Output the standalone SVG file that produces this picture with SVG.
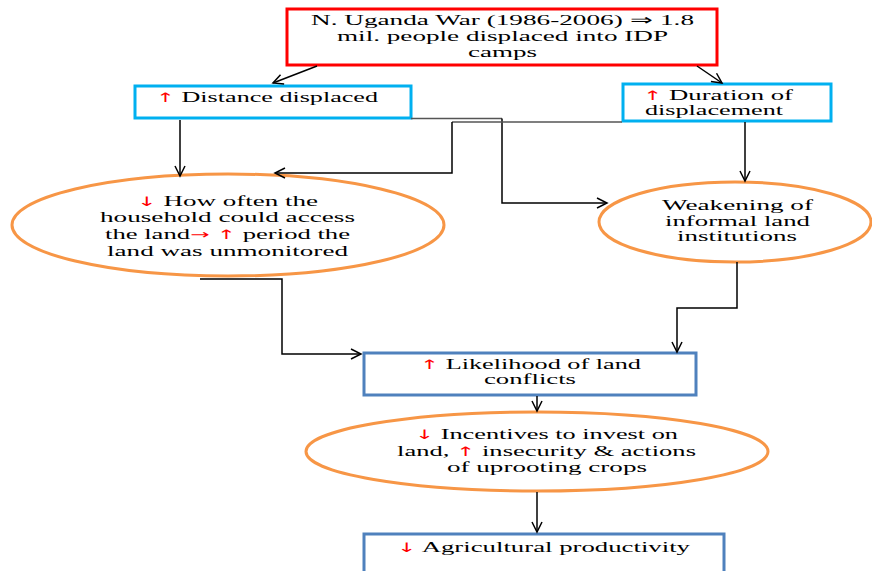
<svg xmlns="http://www.w3.org/2000/svg" width="872" height="571" viewBox="0 0 872 571">
<style>
text{font-family:"Liberation Serif","Times New Roman",serif;font-size:15px;fill:#000}
.r{fill:#ff0000;font-family:"DejaVu Sans","Liberation Serif",sans-serif;font-size:13px}
.c{fill:none;stroke:#000;stroke-width:1.5}
.g{fill:none;stroke:#555;stroke-width:1.5}
.red{fill:#fff;stroke:#ff0000;stroke-width:3}
.sky{fill:#fff;stroke:#00b0f0;stroke-width:3}
.steel{fill:#fff;stroke:#4f81bd;stroke-width:3}
.orange{fill:#fff;stroke:#f79646;stroke-width:3}
</style>
<defs>
<marker id="ah" markerUnits="userSpaceOnUse" markerWidth="14" markerHeight="14" refX="11" refY="6" orient="auto">
<path d="M1,1 L11,6 L1,11" fill="none" stroke="#000" stroke-width="1.5"/>
</marker>
</defs>
<rect width="872" height="571" fill="#fff"/>

<g id="war">
<rect class="red" x="287" y="9" width="430" height="56"/>
<text x="311" y="25" textLength="383" lengthAdjust="spacingAndGlyphs">N. Uganda War (1986-2006) ⇒ 1.8</text>
<text x="337" y="41" textLength="331" lengthAdjust="spacingAndGlyphs">mil. people displaced into IDP</text>
<text x="468" y="57" textLength="69" lengthAdjust="spacingAndGlyphs">camps</text>
</g>

<g id="distance">
<rect class="sky" x="135" y="86" width="276" height="32"/>
<text x="156" y="102" textLength="222" lengthAdjust="spacingAndGlyphs"><tspan class="r">↑</tspan> Distance displaced</text>
</g>

<g id="duration">
<rect class="sky" x="623" y="84" width="208" height="37"/>
<text x="643" y="100" textLength="150" lengthAdjust="spacingAndGlyphs"><tspan class="r">↑</tspan>  Duration of</text>
<text x="645" y="115" textLength="138" lengthAdjust="spacingAndGlyphs">displacement</text>
</g>

<g id="access">
<ellipse class="orange" cx="228" cy="225" rx="216" ry="51"/>
<text x="137" y="206" textLength="181" lengthAdjust="spacingAndGlyphs"><tspan class="r">↓</tspan>  How often the</text>
<text x="100" y="222" textLength="255" lengthAdjust="spacingAndGlyphs">household could access</text>
<text x="105" y="239" textLength="245" lengthAdjust="spacingAndGlyphs">the land<tspan class="r">→ ↑</tspan> period the</text>
<text x="107" y="256" textLength="241" lengthAdjust="spacingAndGlyphs">land was unmonitored</text>
</g>

<g id="weakening">
<ellipse class="orange" cx="735" cy="222" rx="136" ry="40"/>
<text x="662" y="210" textLength="151" lengthAdjust="spacingAndGlyphs">Weakening of</text>
<text x="665" y="226" textLength="145" lengthAdjust="spacingAndGlyphs">informal land</text>
<text x="677" y="241" textLength="120" lengthAdjust="spacingAndGlyphs">institutions</text>
</g>

<g id="likelihood">
<rect class="steel" x="364" y="353" width="332" height="42"/>
<text x="420" y="369" textLength="221" lengthAdjust="spacingAndGlyphs"><tspan class="r">↑</tspan> Likelihood of land</text>
<text x="484" y="384" textLength="92" lengthAdjust="spacingAndGlyphs">conflicts</text>
</g>

<g id="incentives">
<ellipse class="orange" cx="537" cy="451.5" rx="231" ry="39.5"/>
<text x="415" y="439" textLength="263" lengthAdjust="spacingAndGlyphs"><tspan class="r">↓</tspan> Incentives to invest on</text>
<text x="397" y="456" textLength="299" lengthAdjust="spacingAndGlyphs">land, <tspan class="r">↑</tspan> insecurity &amp; actions</text>
<text x="447" y="472" textLength="200" lengthAdjust="spacingAndGlyphs">of uprooting crops</text>
</g>

<g id="productivity">
<rect class="steel" x="364" y="534" width="360" height="45"/>
<text x="397" y="552" textLength="293" lengthAdjust="spacingAndGlyphs"><tspan class="r">↓</tspan> Agricultural productivity</text>
</g>

<g id="connectors">
<path class="c" d="M317,66 L273,83" marker-end="url(#ah)"/>
<path class="c" d="M697,66 L722,83" marker-end="url(#ah)"/>
<path class="c" d="M180,120 L180,176" marker-end="url(#ah)"/>
<path class="g" d="M411,118.5 L502,118.5"/>
<path class="c" d="M502,118.5 L502,203 L607,203" marker-end="url(#ah)"/>
<path class="g" d="M622,122 L452,122"/>
<path class="c" d="M452,122 L452,173 L275,173" marker-end="url(#ah)"/>
<path class="c" d="M745,122 L745,181" marker-end="url(#ah)"/>
<path class="c" d="M200,279 L282,279 L282,354 L361,354" marker-end="url(#ah)"/>
<path class="c" d="M737,262 L737,308 L677,308 L677,352" marker-end="url(#ah)"/>
<path class="c" d="M537,396 L537,411" marker-end="url(#ah)"/>
<path class="c" d="M537,492 L537,532" marker-end="url(#ah)"/>
</g>
</svg>
